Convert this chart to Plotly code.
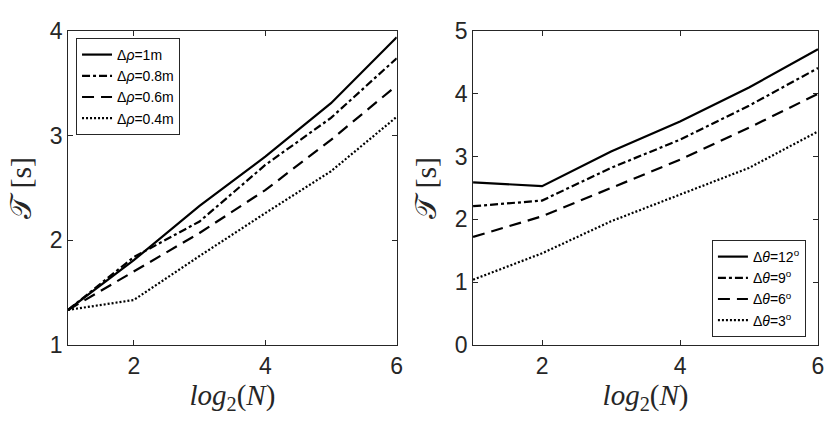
import plotly.graph_objects as go

# eixo x comum: log2(N)
log2N = [1, 2, 3, 4, 5, 6]

# painel esquerdo: variação de delta rho
rho_labels = ["1m", "0.8m", "0.6m", "0.4m"]
T_rho_1 = [1.335, 1.81, 2.33, 2.80, 3.31, 3.94]
T_rho_08 = [1.335, 1.84, 2.18, 2.72, 3.17, 3.74]
T_rho_06 = [1.335, 1.70, 2.07, 2.48, 2.96, 3.48]
T_rho_04 = [1.335, 1.43, 1.85, 2.26, 2.66, 3.18]

# painel direito: variação de delta theta
theta_labels = ["12", "9", "6", "3"]
T_theta_12 = [2.59, 2.53, 3.08, 3.56, 4.10, 4.71]
T_theta_9 = [2.21, 2.30, 2.82, 3.27, 3.81, 4.41]
T_theta_6 = [1.72, 2.05, 2.50, 2.95, 3.46, 4.00]
T_theta_3 = [1.04, 1.46, 1.97, 2.39, 2.82, 3.40]

# estilos de linha tipo MATLAB: '-', '-.', '--', ':'
estilos = ["solid", "8px,3px,3px,3px", "12px,7px", "2px,2px"]

fig = go.Figure()

for lab, ys, dash in zip(rho_labels, [T_rho_1, T_rho_08, T_rho_06, T_rho_04], estilos):
    fig.add_trace(go.Scatter(x=log2N, y=ys, mode="lines",
                             name="Δ<i>ρ</i>=" + lab,
                             line=dict(color="black", width=2.2, dash=dash),
                             xaxis="x", yaxis="y", legend="legend"))

for lab, ys, dash in zip(theta_labels, [T_theta_12, T_theta_9, T_theta_6, T_theta_3], estilos):
    fig.add_trace(go.Scatter(x=log2N, y=ys, mode="lines",
                             name="Δ<i>θ</i>=" + lab + "<sup>o</sup>",
                             line=dict(color="black", width=2.2, dash=dash),
                             xaxis="x2", yaxis="y2", legend="legend2"))

eixo = dict(showline=True, linecolor="#262626", linewidth=1, mirror="ticks",
            ticks="inside", ticklen=5, tickcolor="#262626", showgrid=False, zeroline=False,
            automargin=False,
            tickfont=dict(family="Liberation Sans, Arial", size=23, color="#262626"))
titulo_x = dict(text="<i>log</i><sub>2</sub>(<i>N</i>)",
                font=dict(family="Liberation Serif, DejaVu Serif", size=29, color="#262626"),
                standoff=2)
titulo_y = dict(text="𝒯 [s]",
                font=dict(family="Liberation Serif, DejaVu Serif", size=30, color="#262626"),
                standoff=9)

legenda = dict(bgcolor="white", bordercolor="#262626", borderwidth=1,
               font=dict(family="Liberation Sans, Arial", size=14, color="black"),
               tracegroupgap=0, itemwidth=30)

fig.update_layout(
    template="none",
    width=830, height=422,
    margin=dict(l=0, r=0, t=0, b=0, autoexpand=False),
    paper_bgcolor="white", plot_bgcolor="white",
    xaxis=dict(eixo, domain=[0.082, 0.478], range=[1, 6], tickvals=[2, 4, 6],
               title=titulo_x, anchor="y"),
    yaxis=dict(eixo, domain=[0.1825, 0.9265], range=[1, 4], tickvals=[1, 2, 3, 4],
               title=titulo_y, anchor="x"),
    xaxis2=dict(eixo, domain=[0.570, 0.9855], range=[1, 6], tickvals=[2, 4, 6],
                title=titulo_x, anchor="y2"),
    yaxis2=dict(eixo, domain=[0.1825, 0.9265], range=[0, 5], tickvals=[0, 1, 2, 3, 4, 5],
                title=titulo_y, anchor="x2"),
    legend=dict(legenda, x=0.0916, y=0.91, xanchor="left", yanchor="top"),
    legend2=dict(legenda, x=0.971, y=0.2014, xanchor="right", yanchor="bottom"),
)

# tira a margem padrão do body para o gráfico ocupar a janela toda
fig.write_html("out.html", config={"displayModeBar": False},
               post_script="document.body.style.margin='0';")
